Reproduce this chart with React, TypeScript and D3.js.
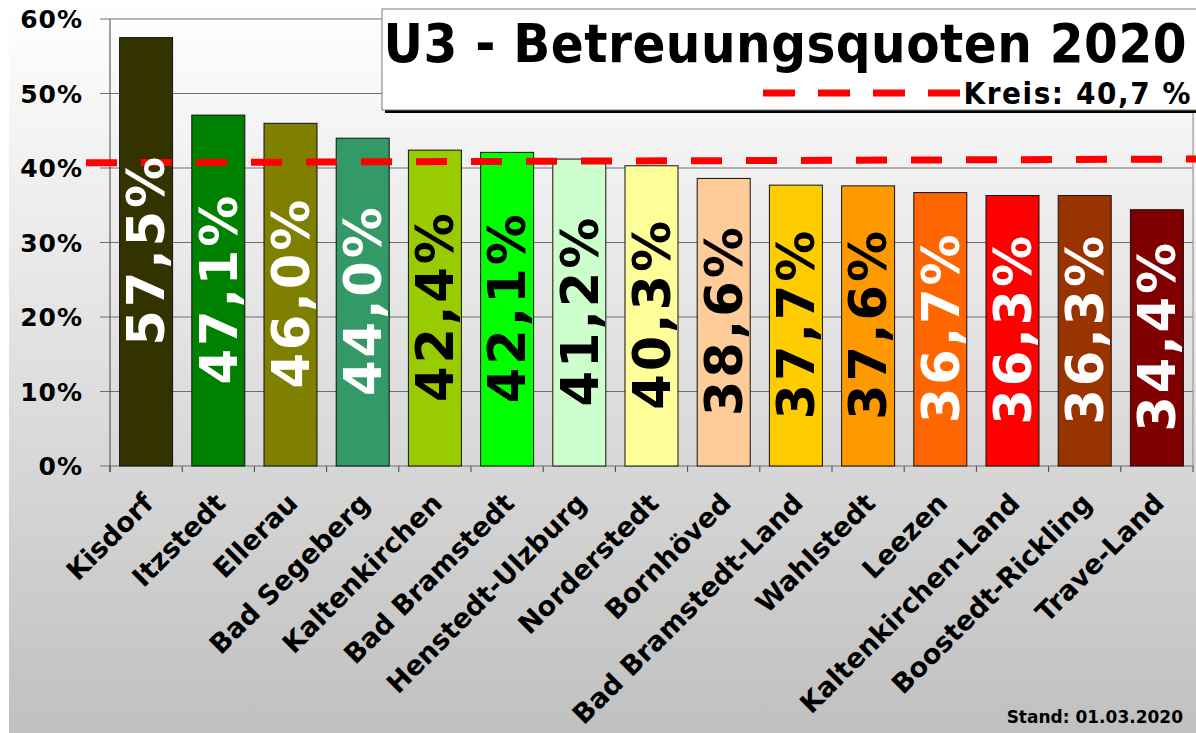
import React from "react";
import * as d3 from "d3";

const categories = [
  "Kisdorf",
  "Itzstedt",
  "Ellerau",
  "Bad Segeberg",
  "Kaltenkirchen",
  "Bad Bramstedt",
  "Henstedt-Ulzburg",
  "Norderstedt",
  "Bornhöved",
  "Bad Bramstedt-Land",
  "Wahlstedt",
  "Leezen",
  "Kaltenkirchen-Land",
  "Boostedt-Rickling",
  "Trave-Land",
];
const values = [57.5, 47.1, 46.0, 44.0, 42.4, 42.1, 41.2, 40.3, 38.6, 37.7, 37.6, 36.7, 36.3, 36.3, 34.4];
const barColors = [
  "#333300", "#008000", "#808000", "#339966", "#99cc00", "#00ff00", "#ccffcc", "#ffff99",
  "#ffcc99", "#ffcc00", "#ff9900", "#ff6600", "#ff0000", "#993300", "#800000",
];
const labelColors = [
  "#ffffff", "#ffffff", "#ffffff", "#ffffff", "#000000", "#000000", "#000000", "#000000",
  "#000000", "#000000", "#000000", "#ffffff", "#ffffff", "#ffffff", "#ffffff",
];
const yTicks = [0, 10, 20, 30, 40, 50, 60];
const kreisLine = [40.7, 41.2]; // start / end of the district reference line
const titleText = "U3 - Betreuungsquoten 2020";
const legendText = "Kreis: 40,7 %";
const footText = "Stand: 01.03.2020";

const W = 1196;
const H = 733;
const FONT = "'DejaVu Sans', Verdana, sans-serif";
const FONT_C = "'DejaVu Sans Condensed', 'DejaVu Sans', sans-serif";

export default function App() {
  const left = 110;
  const right = 1193;
  const top = 19;
  const bottom = 466;

  const x = d3.scaleBand<string>().domain(categories).range([left, right]).paddingInner(0.266).paddingOuter(0.133);
  const y = d3.scaleLinear().domain([0, 60]).range([bottom, top]);
  const fmt = d3.format(".1f");
  const lineX = d3.scaleLinear().domain([0, 1]).range([86, W]);
  const kreisPath = d3.line<number>().x((_, i) => lineX(i)).y((d) => y(d))(kreisLine) || "";
  const step = x.step();
  const boundaries = d3.range(categories.length + 1).map((i) => left + i * step);

  return (
    <svg
      width={W}
      height={H}
      style={{ position: "absolute", left: 0, top: 0, display: "block" }}
      xmlns="http://www.w3.org/2000/svg"
    >
      <defs>
        <linearGradient id="bg" x1="0" y1="0" x2="0" y2="1">
          <stop offset="0" stopColor="#ffffff" />
          <stop offset="1" stopColor="#c0c0c0" />
        </linearGradient>
      </defs>
      <rect x={0} y={0} width={W} height={H} fill="#ffffff" />
      <rect x={9} y={0} width={W - 9} height={H} fill="url(#bg)" />

      {/* grid lines */}
      {yTicks.map((t) => (
        <line key={"g" + t} x1={left - 10} x2={right} y1={y(t)} y2={y(t)} stroke="#6e6e6e" strokeWidth={1} />
      ))}
      {/* right border */}
      <line x1={right} x2={right} y1={top} y2={bottom} stroke="#8a8a8a" strokeWidth={1} />
      {/* left axis */}
      <line x1={left} x2={left} y1={top} y2={bottom + 6} stroke="#444" strokeWidth={1} />
      {/* bottom ticks */}
      {boundaries.map((bx, i) => (
        <line key={"bt" + i} x1={bx} x2={bx} y1={bottom} y2={bottom + 6} stroke="#444" strokeWidth={1} />
      ))}

      {/* y tick labels */}
      {yTicks.map((t) => (
        <text
          key={"yl" + t}
          x={83}
          y={y(t)}
          dy="0.36em"
          textAnchor="end"
          fontFamily={FONT}
          fontWeight="bold"
          fontSize={25}
          letterSpacing={1}
          fill="#000"
        >
          {t}%
        </text>
      ))}

      {/* bars */}
      {categories.map((c, i) => (
        <rect
          key={"b" + c}
          x={x(c)}
          y={y(values[i])}
          width={x.bandwidth()}
          height={bottom - y(values[i])}
          fill={barColors[i]}
          stroke="#111"
          strokeWidth={1}
        />
      ))}

      {/* district line */}
      <path d={kreisPath} fill="none" stroke="#ff0000" strokeWidth={7} strokeDasharray="31 24" />

      {/* bar labels */}
      {categories.map((c, i) => {
        const cx = (x(c) as number) + x.bandwidth() / 2;
        const cy = (y(values[i]) + bottom) / 2;
        return (
          <text
            key={"vl" + c}
            transform={`translate(${cx},${cy}) rotate(-90)`}
            textAnchor="middle"
            dx={2}
            dy="0.36em"
            fontFamily={FONT}
            fontWeight="bold"
            fontSize={51}
            letterSpacing={3}
            fill={labelColors[i]}
          >
            {fmt(values[i]).replace(".", ",")}%
          </text>
        );
      })}

      {/* x labels */}
      {categories.map((c) => {
        const cx = (x(c) as number) + x.bandwidth() / 2;
        return (
          <text
            key={"xl" + c}
            transform={`translate(${cx + 2},${bottom + 32}) rotate(-45)`}
            textAnchor="end"
            dy="0.36em"
            fontFamily={FONT}
            fontWeight="bold"
            fontSize={27}
            fill="#000"
          >
            {c}
          </text>
        );
      })}

      {/* title box */}
      <rect x={385} y={12} width={W} height={101} fill="#000" />
      <rect x={382} y={9} width={W} height={101} fill="#ffffff" stroke="#7a7a7a" strokeWidth={1} />
      <text
        x={1187}
        y={62}
        textAnchor="end"
        fontFamily={FONT_C}
        fontWeight="bold"
        fontStretch="condensed"
        fontSize={54}
        letterSpacing={0.5}
        fill="#000"
      >
        {titleText}
      </text>
      <line x1={763} x2={962} y1={93} y2={93} stroke="#ff0000" strokeWidth={7} strokeDasharray="32 23" />
      <text
        x={1192}
        y={104}
        textAnchor="end"
        fontFamily={FONT_C}
        fontWeight="bold"
        fontStretch="condensed"
        fontSize={31}
        letterSpacing={1.6}
        fill="#000"
      >
        {legendText}
      </text>

      {/* footnote */}
      <text x={1183} y={723} textAnchor="end" fontFamily={FONT} fontWeight="bold" fontSize={17} fill="#000">
        {footText}
      </text>
    </svg>
  );
}
